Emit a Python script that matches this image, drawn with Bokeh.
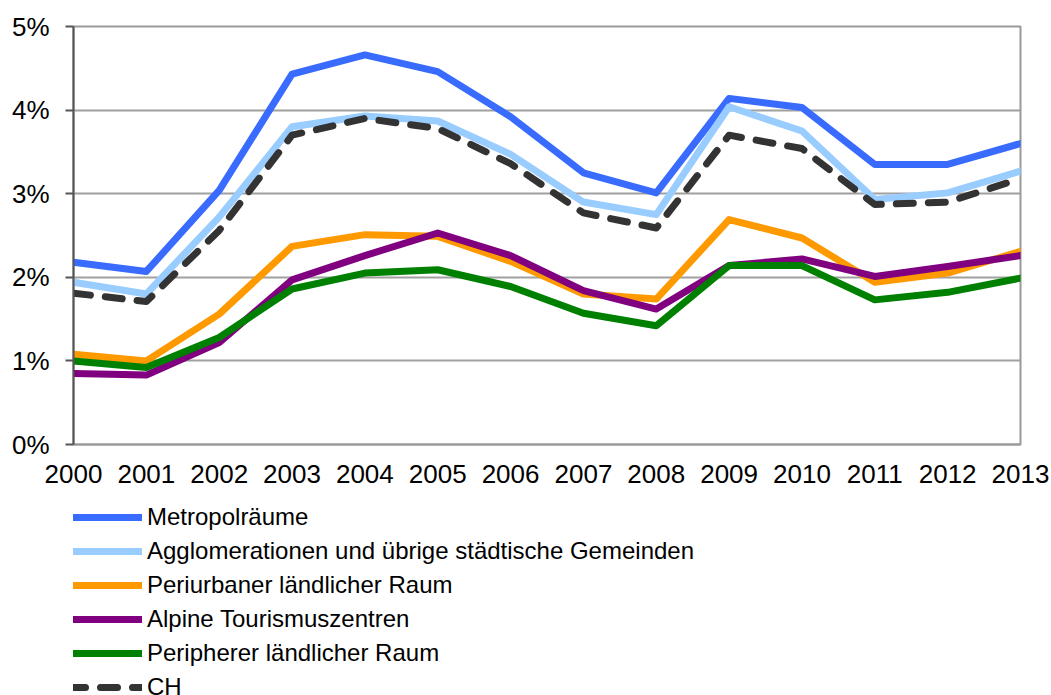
from bokeh.plotting import figure
from bokeh.models import Legend, LegendItem, FixedTicker
from bokeh.layouts import column
from bokeh.embed import file_html
from bokeh.resources import INLINE

years = list(range(2000, 2014))
metropol = [2.18, 2.07, 3.04, 4.43, 4.66, 4.46, 3.92, 3.25, 3.01, 4.14, 4.03, 3.35, 3.35, 3.60]
agglo = [1.94, 1.80, 2.72, 3.80, 3.93, 3.87, 3.47, 2.90, 2.75, 4.04, 3.75, 2.93, 3.01, 3.27]
periurban = [1.08, 1.00, 1.56, 2.37, 2.51, 2.49, 2.19, 1.80, 1.74, 2.69, 2.47, 1.94, 2.05, 2.31]
alpine = [0.85, 0.83, 1.22, 1.97, 2.26, 2.53, 2.26, 1.84, 1.62, 2.14, 2.22, 2.01, 2.13, 2.26]
peripher = [1.00, 0.92, 1.28, 1.86, 2.05, 2.09, 1.89, 1.57, 1.42, 2.14, 2.14, 1.73, 1.82, 1.99]
ch = [1.81, 1.71, 2.56, 3.70, 3.90, 3.78, 3.36, 2.77, 2.59, 3.70, 3.54, 2.87, 2.90, 3.18]

labels = ["Metropolräume",
          "Agglomerationen und übrige städtische Gemeinden",
          "Periurbaner ländlicher Raum",
          "Alpine Tourismuszentren",
          "Peripherer ländlicher Raum",
          "CH"]
colors = ["#3A6BFF", "#99CCFF", "#FF9900", "#800080", "#008000", "#333333"]
dashes = ["solid", "solid", "solid", "solid", "solid", "17 15"]
y_ticks = [0, 1, 2, 3, 4, 5]
y_tick_labels = ["0%", "1%", "2%", "3%", "4%", "5%"]

FONT = "Liberation Sans"

p = figure(width=1051, height=500, x_range=(2000, 2013), y_range=(0, 5),
           output_backend="svg", toolbar_location=None,
           min_border_left=73, min_border_right=31, min_border_top=26,
           min_border_bottom=56)

p.outline_line_color = "#999999"
p.outline_line_width = 2
p.xgrid.grid_line_color = None
p.ygrid.grid_line_color = "#A0A0A0"
p.ygrid.grid_line_width = 2

p.yaxis.ticker = FixedTicker(ticks=y_ticks)
p.yaxis.major_label_overrides = {t: l for t, l in zip(y_ticks, y_tick_labels)}
p.yaxis.minor_tick_line_color = None
p.yaxis.axis_line_color = "#555555"
p.yaxis.axis_line_width = 2
p.yaxis.major_tick_line_color = "#555555"
p.yaxis.major_tick_line_width = 2
p.yaxis.major_tick_out = 8
p.yaxis.major_tick_in = 0
p.yaxis.major_label_standoff = 16
p.yaxis.major_label_text_font = FONT
p.yaxis.major_label_text_font_size = "26px"
p.yaxis.major_label_text_color = "#000000"

p.xaxis.ticker = FixedTicker(ticks=years)
p.xaxis.major_label_overrides = {y: str(y) for y in years}
p.xaxis.minor_tick_line_color = None
p.xaxis.major_tick_line_color = None
p.xaxis.major_tick_out = 0
p.xaxis.major_tick_in = 0
p.xaxis.axis_line_color = "#999999"
p.xaxis.axis_line_width = 2
p.xaxis.major_label_standoff = 20
p.xaxis.major_label_text_font = FONT
p.xaxis.major_label_text_font_size = "26px"
p.xaxis.major_label_text_color = "#000000"

series = [metropol, agglo, periurban, alpine, peripher, ch]
for vals, col, dash in zip(series, colors, dashes):
    p.line(years, vals, line_color=col, line_width=7, line_dash=dash,
           line_cap="round", line_join="round")

# legend panel below the chart (its lines lie outside its visible range)
p2 = figure(width=1051, height=195, x_range=(0, 1), y_range=(0, 1),
            output_backend="svg", toolbar_location=None,
            x_axis_location=None, y_axis_location=None,
            min_border_left=0, min_border_right=0, min_border_top=0,
            min_border_bottom=0)
p2.outline_line_color = None
p2.grid.grid_line_color = None

items = []
for vals, lab, col, dash in zip(series, labels, colors, dashes):
    r = p2.line(years, vals, line_color=col, line_width=7, line_dash=dash,
                line_cap="round", line_join="round")
    items.append(LegendItem(label=lab, renderers=[r]))

legend = Legend(items=items, location=(-5, -9), orientation="vertical",
                padding=0, margin=0, spacing=0,
                glyph_width=74, glyph_height=34, label_height=34,
                label_standoff=5,
                label_text_font=FONT, label_text_font_size="24px",
                label_text_color="#000000",
                border_line_alpha=0, background_fill_alpha=0)
p2.add_layout(legend, "center")

layout = column(p, p2, spacing=0)
open("out.html", "w").write(file_html(layout, INLINE))
